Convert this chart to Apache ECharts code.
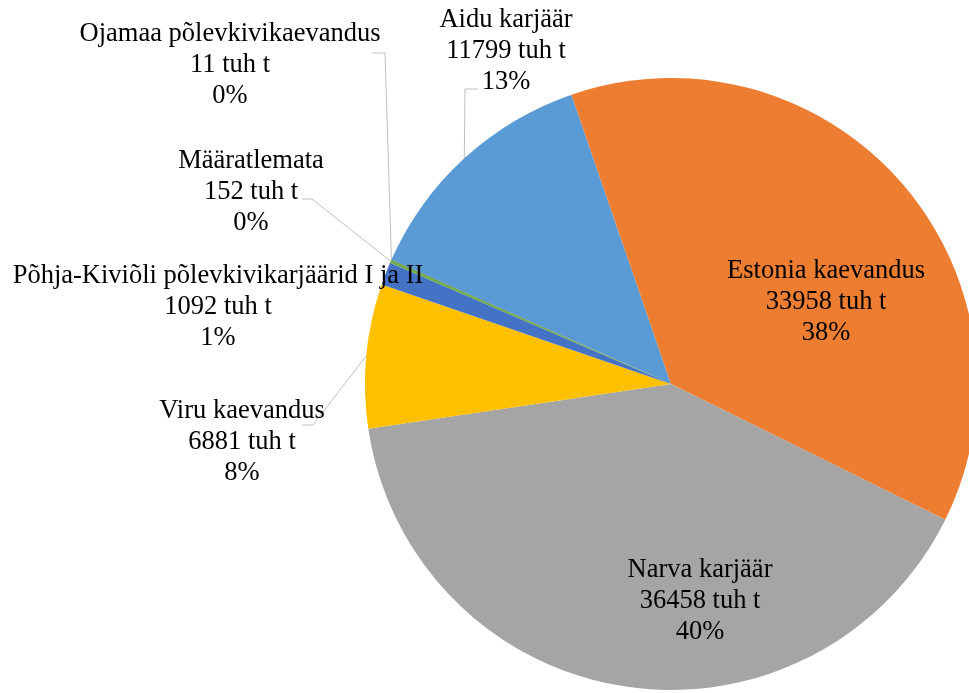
<!DOCTYPE html>
<html>
<head>
<meta charset="utf-8">
<script src="https://cdn.jsdelivr.net/npm/echarts@6/dist/echarts.min.js"></script>
<style>
  html, body { margin: 0; padding: 0; background: #fff; }
  #chart { width: 969px; height: 693px; }
</style>
</head>
<body>
<div id="chart"></div>
<script>
  // data, in the chart's series order (Excel starts with Aidu)
  const names = [
    'Aidu karjäär',
    'Estonia kaevandus',
    'Narva karjäär',
    'Viru kaevandus',
    'Põhja-Kiviõli põlevkivikarjäärid I ja II',
    'Määratlemata',
    'Ojamaa põlevkivikaevandus'
  ];
  const values = [11799, 33958, 36458, 6881, 1092, 152, 11];
  const colors = ['#5B9BD5', '#ED7D31', '#A5A5A5', '#FFC000', '#4472C4', '#70AD47', '#264478'];

  // where each label block sits (centre)
  const labelPos = [[506, 51], [826, 302], [700, 601], [242, 442], [218, 307], [251, 192], [230, 65]];
  // leader line elbows: [bend, end] next to the label, null = no line
  const leaderBends = [
    [[465, 89], [478, 89]],
    null,
    null,
    [[313, 425], [302, 425]],
    null,
    [[312, 199], [302, 199]],
    [[385, 53], [372, 53]]
  ];

  const chart = echarts.init(document.getElementById('chart'));

  const data = names.map((n, i) => ({
    name: n,
    value: values[i],
    itemStyle: { color: colors[i] },
    labelLine: { show: !!leaderBends[i] }
  }));

  chart.setOption({
    animation: false,
    series: [{
      type: 'pie',
      center: [671, 384],
      radius: 306,
      startAngle: 156,
      clockwise: true,
      avoidLabelOverlap: false,
      data: data,
      itemStyle: { borderWidth: 0 },
      label: {
        show: true,
        position: 'outside',
        formatter: (p) => p.name + '\n' + p.value + ' tuh t\n' + Math.round(p.percent) + '%',
        fontFamily: 'Liberation Serif',
        fontSize: 26.5,
        lineHeight: 31,
        color: '#000',
        align: 'center'
      },
      labelLine: {
        lineStyle: { color: '#BFBFBF', width: 1 },
        length: 20,
        length2: 10
      },
      labelLayout: (params) => {
        const i = params.dataIndex;
        const p = labelPos[i];
        const out = { x: p[0], y: p[1], align: 'center', verticalAlign: 'middle' };
        const b = leaderBends[i];
        if (b && params.labelLinePoints && params.labelLinePoints.length) {
          const start = params.labelLinePoints[0];
          out.labelLinePoints = [[start[0], start[1]], b[0], b[1]];
        }
        return out;
      }
    }]
  });
</script>
</body>
</html>
